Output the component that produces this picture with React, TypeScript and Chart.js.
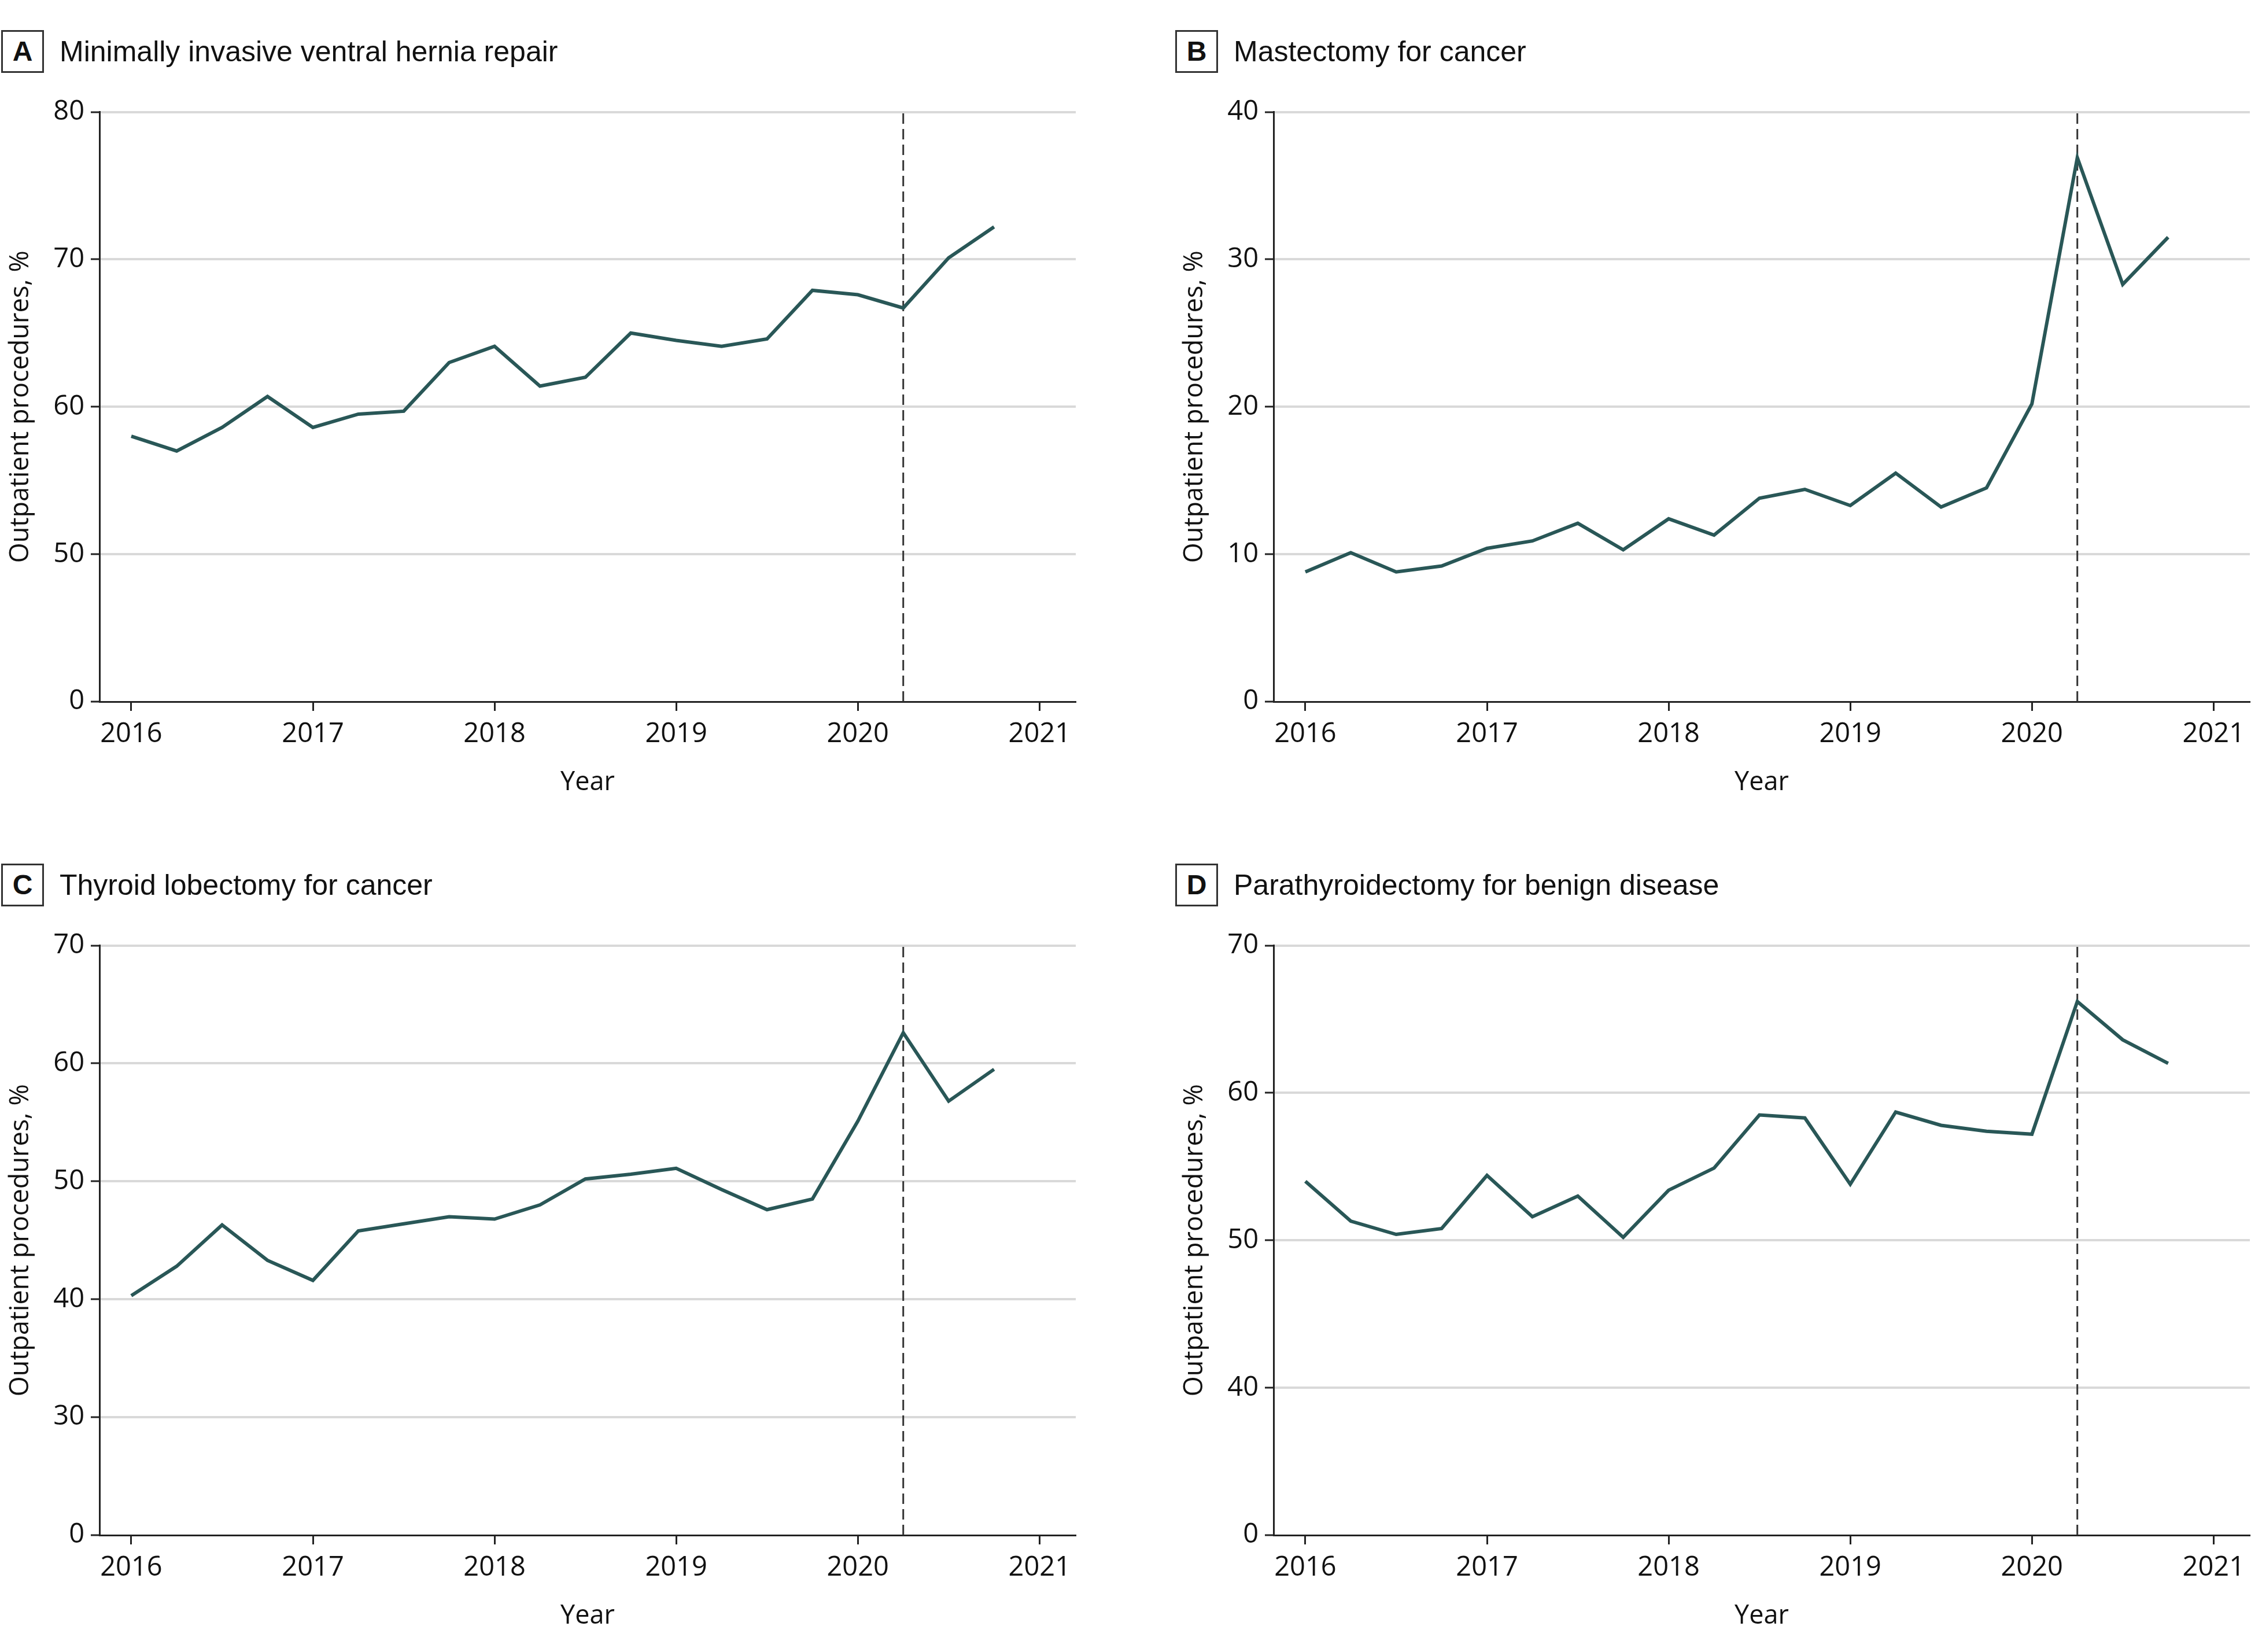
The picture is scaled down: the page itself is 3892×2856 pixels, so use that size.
import React, { useEffect, useRef } from 'react';
import { Chart, registerables } from 'chart.js';

Chart.register(...registerables);

// ---- Data ----
const YEAR_TICKS = [2016, 2017, 2018, 2019, 2020, 2021];
const QUARTERS = [
  2016, 2016.25, 2016.5, 2016.75,
  2017, 2017.25, 2017.5, 2017.75,
  2018, 2018.25, 2018.5, 2018.75,
  2019, 2019.25, 2019.5, 2019.75,
  2020, 2020.25, 2020.5, 2020.75,
];
const INTERVENTION_YEAR = 2020.25;

const herniaValues = [58.0, 57.0, 58.6, 60.7, 58.6, 59.5, 59.7, 63.0, 64.1, 61.4, 62.0, 65.0, 64.5, 64.1, 64.6, 67.9, 67.6, 66.7, 70.1, 72.2];
const mastectomyValues = [8.8, 10.1, 8.8, 9.2, 10.4, 10.9, 12.1, 10.3, 12.4, 11.3, 13.8, 14.4, 13.3, 15.5, 13.2, 14.5, 20.2, 36.9, 28.3, 31.5];
const thyroidValues = [40.3, 42.8, 46.3, 43.3, 41.6, 45.8, 46.4, 47.0, 46.8, 48.0, 50.2, 50.6, 51.1, 49.3, 47.6, 48.5, 55.1, 62.6, 56.8, 59.5];
const parathyroidValues = [54.0, 51.3, 50.4, 50.8, 54.4, 51.6, 53.0, 50.2, 53.4, 54.9, 58.5, 58.3, 53.8, 58.7, 57.8, 57.4, 57.2, 66.2, 63.6, 62.0];

// y-axis tick positions and their printed labels (broken axes show "0" at the bottom)
const herniaTicks = [40, 50, 60, 70, 80];
const herniaTickLabels = ['0', '50', '60', '70', '80'];
const mastectomyTicks = [0, 10, 20, 30, 40];
const mastectomyTickLabels = ['0', '10', '20', '30', '40'];
const thyroidTicks = [20, 30, 40, 50, 60, 70];
const thyroidTickLabels = ['0', '30', '40', '50', '60', '70'];
const parathyroidTicks = [30, 40, 50, 60, 70];
const parathyroidTickLabels = ['0', '40', '50', '60', '70'];

const PANEL_LETTERS = ['A', 'B', 'C', 'D'];
const PANEL_TITLES = [
  'Minimally invasive ventral hernia repair',
  'Mastectomy for cancer',
  'Thyroid lobectomy for cancer',
  'Parathyroidectomy for benign disease',
];
const X_TITLE = 'Year';
const Y_TITLE = 'Outpatient procedures, %';

// ---- Styles ----
const LINE_COLOR = '#295757';
const AXIS_COLOR = '#222222';
const GRID_COLOR = '#d9d9d9';
const TEXT_COLOR = '#111111';
const TICK_FONT = { family: '"Open Sans", "Liberation Sans", sans-serif', size: 47 };
const AXIS_TITLE_FONT = { family: '"Open Sans", "Liberation Sans", sans-serif', size: 45 };

const CANVAS_W = 1863;
const CANVAS_H = 1280;
const CANVAS_TOP = 140;
const X_RANGE = { min: 2015.825, max: 2021.2 };

type PanelProps = {
  letter: string;
  title: string;
  values: number[];
  ticks: number[];
  tickLabels: string[];
  left: number;
  top: number;
};

function Panel({ letter, title, values, ticks, tickLabels, left, top }: PanelProps) {
  const ref = useRef<HTMLCanvasElement | null>(null);

  useEffect(() => {
    if (!ref.current) return;
    const yMin = ticks[0];
    const yMax = ticks[ticks.length - 1];
    const chart = new Chart(ref.current, {
      type: 'line',
      data: {
        datasets: [
          {
            data: QUARTERS.map((x, i) => ({ x, y: values[i] })),
            borderColor: LINE_COLOR,
            borderWidth: 6,
            pointRadius: 0,
            tension: 0,
            borderJoinStyle: 'miter',
            fill: false,
            order: 0,
          },
          {
            data: [
              { x: INTERVENTION_YEAR, y: yMin },
              { x: INTERVENTION_YEAR, y: yMax },
            ],
            borderColor: '#333333',
            borderWidth: 3,
            borderDash: [18, 9],
            pointRadius: 0,
            fill: false,
            order: 1,
          },
        ],
      },
      options: {
        responsive: false,
        animation: false,
        maintainAspectRatio: false,
        layout: { padding: { top: 53.5, left: 0, right: 0, bottom: 0 } },
        plugins: {
          legend: { display: false },
          tooltip: { enabled: false },
          title: { display: false },
        },
        scales: {
          x: {
            type: 'linear',
            min: X_RANGE.min,
            max: X_RANGE.max,
            afterBuildTicks: (axis: any) => {
              axis.ticks = YEAR_TICKS.map((v) => ({ value: v }));
            },
            afterFit: (scale: any) => {
              scale.height = 207;
            },
            ticks: {
              callback: (v: any) => String(v),
              font: TICK_FONT,
              color: TEXT_COLOR,
              padding: 12,
              maxRotation: 0,
              autoSkip: false,
            },
            grid: {
              drawOnChartArea: false,
              drawTicks: true,
              tickLength: 16,
              tickWidth: 3,
              tickColor: AXIS_COLOR,
            },
            border: { display: true, color: AXIS_COLOR, width: 3 },
            title: {
              display: true,
              text: X_TITLE,
              font: AXIS_TITLE_FONT,
              color: TEXT_COLOR,
              padding: { top: 0, bottom: 40 },
            },
          },
          y: {
            type: 'linear',
            min: yMin,
            max: yMax,
            afterBuildTicks: (axis: any) => {
              axis.ticks = ticks.map((v) => ({ value: v }));
            },
            afterFit: (scale: any) => {
              scale.width = 172;
            },
            ticks: {
              callback: (_v: any, i: number) => tickLabels[i],
              font: TICK_FONT,
              color: TEXT_COLOR,
              padding: 11,
              autoSkip: false,
            },
            grid: {
              color: (ctx: any) => (ctx.index === 0 ? 'rgba(0,0,0,0)' : GRID_COLOR),
              lineWidth: 4,
              drawTicks: true,
              tickLength: 15,
              tickWidth: 3,
              tickColor: AXIS_COLOR,
            },
            border: { display: true, color: AXIS_COLOR, width: 3 },
            title: {
              display: true,
              text: Y_TITLE,
              font: AXIS_TITLE_FONT,
              color: TEXT_COLOR,
              padding: { top: 9, bottom: 0 },
            },
          },
        },
      } as any,
    });
    return () => chart.destroy();
  }, [values, ticks, tickLabels]);

  return (
    <>
      <div
        style={{
          position: 'absolute',
          left: left + 2,
          top: top + 52,
          height: 74,
          display: 'flex',
          alignItems: 'center',
          whiteSpace: 'nowrap',
          color: TEXT_COLOR,
        }}
      >
        <div
          style={{
            width: 68,
            height: 68,
            border: '3px solid #333',
            display: 'flex',
            alignItems: 'center',
            justifyContent: 'center',
            fontFamily: '"Liberation Sans", Arial, sans-serif',
            fontWeight: 'bold',
            fontSize: 48,
            lineHeight: 1,
          }}
        >
          {letter}
        </div>
        <span
          style={{
            marginLeft: 27,
            fontFamily: '"Liberation Sans", Arial, sans-serif',
            fontSize: 50,
            lineHeight: 1,
          }}
        >
          {title}
        </span>
      </div>
      <canvas
        ref={ref}
        width={CANVAS_W}
        height={CANVAS_H}
        style={{ position: 'absolute', left, top: top + CANVAS_TOP, width: CANVAS_W, height: CANVAS_H }}
      />
    </>
  );
}

export default function App() {
  useEffect(() => {
    document.body.style.margin = '0';
    document.body.style.overflow = 'hidden';
    document.body.style.background = '#ffffff';
  }, []);

  const panels = [
    { values: herniaValues, ticks: herniaTicks, tickLabels: herniaTickLabels, left: 0, top: 0 },
    { values: mastectomyValues, ticks: mastectomyTicks, tickLabels: mastectomyTickLabels, left: 2030, top: 0 },
    { values: thyroidValues, ticks: thyroidTicks, tickLabels: thyroidTickLabels, left: 0, top: 1441 },
    { values: parathyroidValues, ticks: parathyroidTicks, tickLabels: parathyroidTickLabels, left: 2030, top: 1441 },
  ];

  return (
    <div
      style={{
        position: 'absolute',
        left: 0,
        top: 0,
        width: 3892,
        height: 2856,
        overflow: 'hidden',
        background: '#ffffff',
      }}
    >
      {panels.map((p, i) => (
        <Panel
          key={PANEL_LETTERS[i]}
          letter={PANEL_LETTERS[i]}
          title={PANEL_TITLES[i]}
          values={p.values}
          ticks={p.ticks}
          tickLabels={p.tickLabels}
          left={p.left}
          top={p.top}
        />
      ))}
    </div>
  );
}
